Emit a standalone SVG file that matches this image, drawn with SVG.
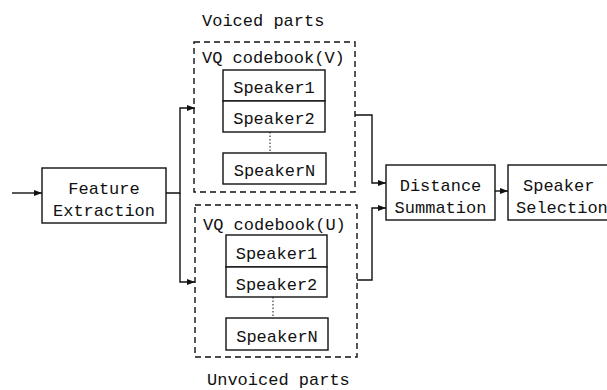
<svg xmlns="http://www.w3.org/2000/svg" width="607" height="390" viewBox="0 0 607 390">
  <defs>
    <marker id="arrow" viewBox="0 0 8 6" refX="8" refY="3" markerWidth="8" markerHeight="6" markerUnits="userSpaceOnUse" orient="auto">
      <path d="M0,0 L8,3 L0,6 Z" fill="#111"/>
    </marker>
    <style>
      .box { fill: #fff; stroke: #111; stroke-width: 1.4; }
      .group { fill: none; stroke: #111; stroke-width: 1.4; stroke-dasharray: 6 4; }
      .wire { fill: none; stroke: #111; stroke-width: 1.4; }
      .dots { fill: none; stroke: #111; stroke-width: 1; stroke-dasharray: 1.5 2; }
      text { font-family: "Liberation Mono", "DejaVu Sans Mono", monospace; font-size: 17px; fill: #111; }
      .c { text-anchor: middle; }
    </style>
  </defs>
  <rect width="607" height="390" fill="#fff"/>

  <!-- connectors -->
  <g id="connectors">
    <path class="wire" d="M12,193 H42" marker-end="url(#arrow)"/>
    <path class="wire" d="M166,193 H180 V108 H195" marker-end="url(#arrow)"/>
    <path class="wire" d="M180,193 V282 H195" marker-end="url(#arrow)"/>
    <path class="wire" d="M355,115 H372 V183 H386" marker-end="url(#arrow)"/>
    <path class="wire" d="M357,280 H372 V208 H386" marker-end="url(#arrow)"/>
    <path class="wire" d="M495,191 H508" marker-end="url(#arrow)"/>
    <path class="dots" d="M270,132 V153"/>
    <path class="dots" d="M273,297 V318"/>
  </g>

  <g id="feature-extraction">
    <rect class="box" x="42" y="168" width="124" height="55"/>
    <text class="c" x="104" y="194">Feature</text>
    <text class="c" x="104" y="216">Extraction</text>
  </g>

  <g id="codebook-v">
    <text x="202" y="26">Voiced parts</text>
    <rect class="group" x="194" y="42" width="161" height="150"/>
    <text x="202" y="63">VQ codebook(V)</text>
    <g id="v-speaker1">
      <rect class="box" x="223" y="70" width="102" height="31"/>
      <text class="c" x="274" y="93">Speaker1</text>
    </g>
    <g id="v-speaker2">
      <rect class="box" x="223" y="101" width="102" height="31"/>
      <text class="c" x="274" y="124">Speaker2</text>
    </g>
    <g id="v-speakerN">
      <rect class="box" x="223" y="153" width="103" height="31"/>
      <text class="c" x="274.5" y="176">SpeakerN</text>
    </g>
  </g>

  <g id="codebook-u">
    <rect class="group" x="195" y="205" width="162" height="152"/>
    <text x="203" y="230">VQ codebook(U)</text>
    <g id="u-speaker1">
      <rect class="box" x="226" y="235" width="101" height="32"/>
      <text class="c" x="276.5" y="259">Speaker1</text>
    </g>
    <g id="u-speaker2">
      <rect class="box" x="226" y="267" width="101" height="30"/>
      <text class="c" x="276.5" y="290">Speaker2</text>
    </g>
    <g id="u-speakerN">
      <rect class="box" x="226" y="318" width="102" height="32"/>
      <text class="c" x="277" y="342">SpeakerN</text>
    </g>
    <text x="207" y="385">Unvoiced parts</text>
  </g>

  <g id="distance-summation">
    <rect class="box" x="386" y="165" width="109" height="55"/>
    <text class="c" x="440.5" y="191">Distance</text>
    <text class="c" x="440.5" y="213">Summation</text>
  </g>

  <g id="speaker-selection">
    <rect class="box" x="508" y="165" width="120" height="55"/>
    <text x="523" y="191">Speaker</text>
    <text x="516" y="213">Selection</text>
  </g>
</svg>
